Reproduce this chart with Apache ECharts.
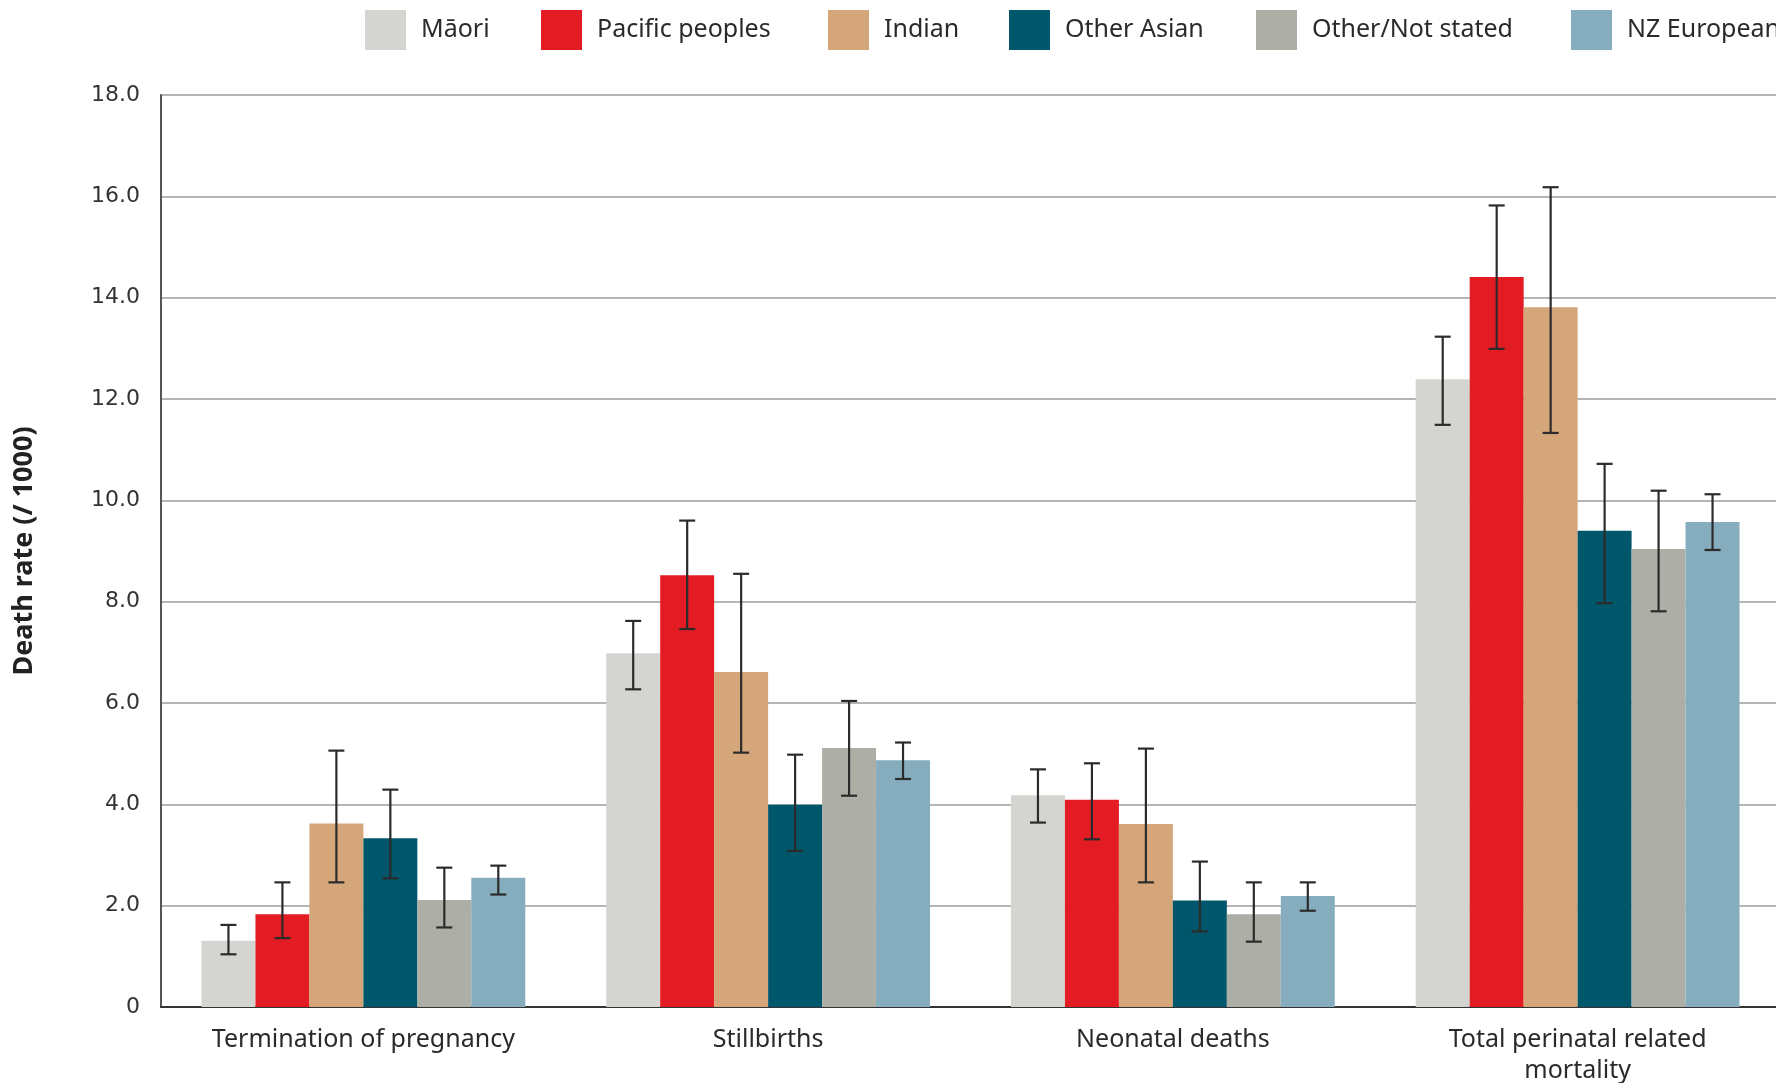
<!DOCTYPE html>
<html>
<head>
<meta charset="utf-8">
<script src="https://cdn.jsdelivr.net/npm/echarts@6/dist/echarts.min.js"></script>
<style>
html,body{margin:0;padding:0;background:#fff;}
#chart{width:1776px;height:1083px;}
</style>
</head>
<body>
<div id="chart"></div>
<script>
const categories = ['Termination of pregnancy', 'Stillbirths', 'Neonatal deaths', 'Total perinatal related\nmortality'];
const seriesNames = ['Māori', 'Pacific peoples', 'Indian', 'Other Asian', 'Other/Not stated', 'NZ European'];
const seriesColors = ['#d4d5d0', '#e31c24', '#d4a67a', '#00566a', '#adaea5', '#85adbe'];

const maori        = [1.31, 6.98, 4.18, 12.39];
const pacific      = [1.83, 8.52, 4.09, 14.41];
const indian       = [3.62, 6.61, 3.61, 13.81];
const otherAsian   = [3.33, 3.99, 2.10, 9.40];
const otherNot     = [2.11, 5.11, 1.83, 9.04];
const nzEuropean   = [2.55, 4.87, 2.19, 9.57];

const maoriLow      = [1.04, 6.27, 3.64, 11.49];
const maoriHigh     = [1.62, 7.62, 4.69, 13.23];
const pacificLow    = [1.36, 7.46, 3.31, 12.99];
const pacificHigh   = [2.46, 9.60, 4.81, 15.82];
const indianLow     = [2.46, 5.02, 2.46, 11.33];
const indianHigh    = [5.06, 8.55, 5.10, 16.18];
const otherAsianLow = [2.54, 3.08, 1.49, 7.97];
const otherAsianHigh= [4.29, 4.98, 2.87, 10.72];
const otherNotLow   = [1.57, 4.17, 1.29, 7.81];
const otherNotHigh  = [2.75, 6.04, 2.46, 10.19];
const nzEuropeanLow = [2.22, 4.50, 1.90, 9.02];
const nzEuropeanHigh= [2.79, 5.22, 2.46, 10.12];

const yTicks = [0, 2, 4, 6, 8, 10, 12, 14, 16, 18];

const values = [maori, pacific, indian, otherAsian, otherNot, nzEuropean];
const lows = [maoriLow, pacificLow, indianLow, otherAsianLow, otherNotLow, nzEuropeanLow];
const highs = [maoriHigh, pacificHigh, indianHigh, otherAsianHigh, otherNotHigh, nzEuropeanHigh];

const chart = echarts.init(document.getElementById('chart'));

const legendLefts = [365, 541, 828, 1009, 1256, 1571];
const legends = seriesNames.map((n, i) => ({
  data: [n],
  left: legendLefts[i],
  top: 10,
  padding: 0,
  icon: 'rect',
  itemWidth: 41,
  itemHeight: 40,
  selectedMode: false,
  textStyle: { fontFamily: 'Noto Sans', fontSize: 25, color: '#2a2a2a', padding: [0, 0, 0, 10] }
}));

const CATGAP = 0.2;
const errData = [];
for (let s = 0; s < 6; s++) {
  for (let c = 0; c < categories.length; c++) {
    errData.push([c, lows[s][c], highs[s][c], s]);
  }
}

const barSeries = seriesNames.map((n, i) => ({
  name: n,
  type: 'bar',
  data: values[i],
  barGap: '0%',
  barCategoryGap: (CATGAP * 100) + '%',
  itemStyle: { color: seriesColors[i] },
  z: 2
}));

const errSeries = {
  type: 'custom',
  z: 5,
  silent: true,
  data: errData,
  encode: { x: 0, y: [1, 2] },
  renderItem: function (params, api) {
    const c = api.value(0), lo = api.value(1), hi = api.value(2), s = api.value(3);
    const band = api.size([1, 0])[0];
    const bw = band * (1 - CATGAP) / 6;
    const pLo = api.coord([c, lo]);
    const pHi = api.coord([c, hi]);
    const x = pLo[0] + (s - 2.5) * bw;
    const cap = 8;
    const st = { stroke: '#2b2b2b', lineWidth: 2.2 };
    return {
      type: 'group',
      children: [
        { type: 'line', shape: { x1: x, y1: pLo[1], x2: x, y2: pHi[1] }, style: st },
        { type: 'line', shape: { x1: x - cap, y1: pLo[1], x2: x + cap, y2: pLo[1] }, style: st },
        { type: 'line', shape: { x1: x - cap, y1: pHi[1], x2: x + cap, y2: pHi[1] }, style: st }
      ]
    };
  }
};

chart.setOption({
  animation: false,
  backgroundColor: '#fff',
  legend: legends,
  grid: { left: 161, top: 95, bottom: 76, right: -4, containLabel: false, outerBoundsMode: 'none' },
  xAxis: {
    type: 'category',
    data: categories,
    axisTick: { show: false },
    axisLine: { lineStyle: { color: '#333', width: 2 } },
    axisLabel: { fontFamily: 'Noto Sans', fontSize: 25, color: '#2a2a2a', margin: 17, lineHeight: 31, interval: 0 }
  },
  yAxis: {
    type: 'value',
    min: yTicks[0],
    max: yTicks[yTicks.length - 1],
    interval: yTicks[1] - yTicks[0],
    name: 'Death rate (/ 1000)',
    nameLocation: 'middle',
    nameGap: 123,
    nameTextStyle: { fontFamily: 'Noto Sans', fontSize: 27, fontWeight: 'bold', color: '#222' },
    axisLine: { show: true, lineStyle: { color: '#555', width: 2 } },
    axisTick: { show: false },
    axisLabel: {
      fontFamily: 'DejaVu Sans', fontSize: 22, color: '#333', margin: 21, padding: [4, 0, 0, 0],
      formatter: v => v === 0 ? '0' : v.toFixed(1)
    },
    splitLine: { lineStyle: { color: '#b5b5b8', width: 2 } }
  },
  series: barSeries.concat([errSeries])
});
</script>
</body>
</html>
